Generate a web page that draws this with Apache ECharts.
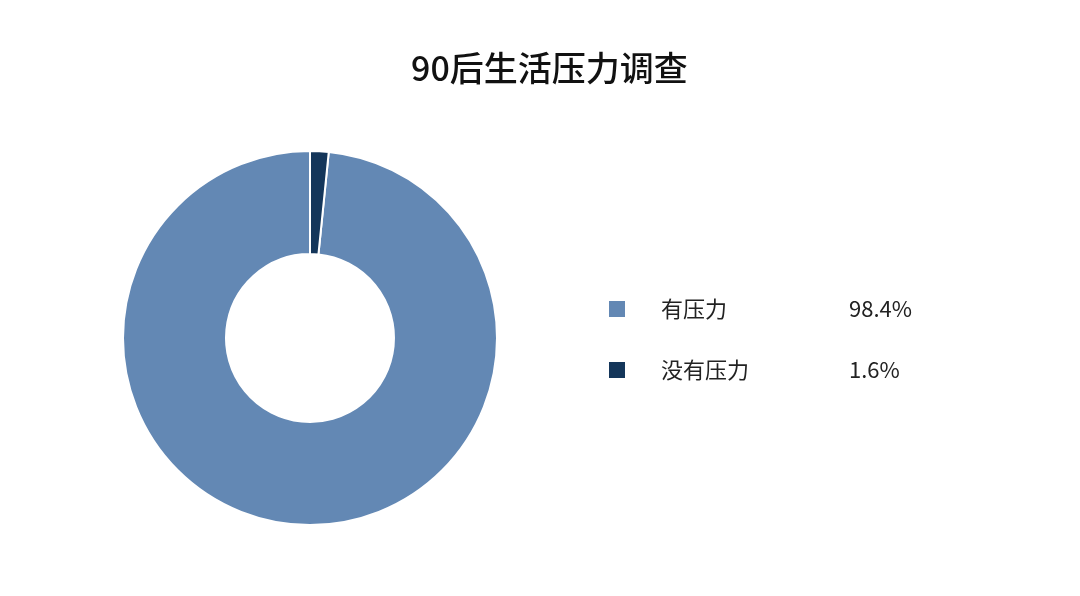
<!DOCTYPE html>
<html>
<head>
<meta charset="utf-8">
<script src="https://cdn.jsdelivr.net/npm/echarts@6/dist/echarts.min.js"></script>
<style>
html,body{margin:0;padding:0;background:#fff;}
#main{width:1080px;height:596px;}
</style>
</head>
<body>
<div id="main"></div>
<script>
var titleText = '90后生活压力调查';
var categories = ['有压力', '没有压力'];
var values = [98.4, 1.6];
var colors = ['#6388b4', '#14365a'];

var chart = echarts.init(document.getElementById('main'));
var valueMap = {};
categories.forEach(function (c, i) { valueMap[c] = values[i]; });

chart.setOption({
  backgroundColor: '#ffffff',
  color: colors,
  title: {
    text: titleText,
    left: 406,
    top: 46,
    textStyle: {
      fontFamily: 'Noto Sans CJK SC',
      fontSize: 34,
      fontWeight: 500,
      color: '#111111'
    }
  },
  legend: {
    orient: 'vertical',
    left: 602,
    top: 293,
    itemWidth: 18,
    itemHeight: 18,
    itemGap: 39,
    icon: 'rect',
    data: categories,
    formatter: function (name) {
      return '{a|' + name + '}{b|' + valueMap[name] + '%}';
    },
    textStyle: {
      fontFamily: 'Noto Sans CJK SC',
      fontSize: 22,
      color: '#222222',
      rich: {
        a: { width: 188, padding: [0, 0, 0, 30], fontSize: 22, fontFamily: 'Noto Sans CJK SC', color: '#222222' },
        b: { fontSize: 22, fontFamily: 'Noto Sans CJK SC', color: '#222222' }
      }
    }
  },
  series: [{
    type: 'pie',
    center: [310, 338],
    radius: [84, 187],
    startAngle: 90,
    clockwise: false,
    label: { show: false },
    labelLine: { show: false },
    silent: true,
    itemStyle: { borderColor: '#ffffff', borderWidth: 2 },
    data: categories.map(function (c, i) { return { name: c, value: values[i] }; })
  }]
});
</script>
</body>
</html>
